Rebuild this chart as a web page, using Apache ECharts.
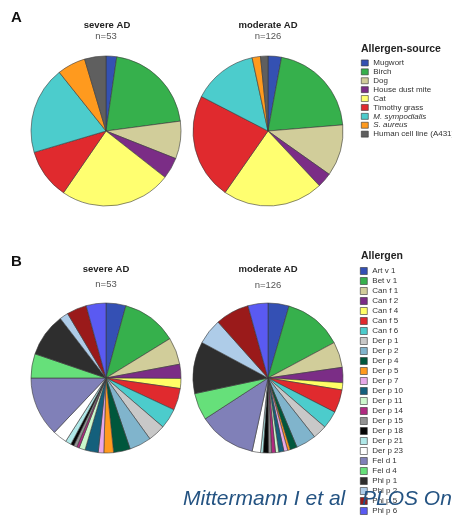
<!DOCTYPE html>
<html>
<head>
<meta charset="utf-8">
<script src="https://cdn.jsdelivr.net/npm/echarts@6/dist/echarts.min.js"></script>
<style>
  html, body { margin: 0; padding: 0; background: #fff; }
  #chart { width: 452px; height: 515px; }
</style>
</head>
<body>
<div id="chart"></div>
<script>
// Panel A: allergen sources
var sourceNames = ['Mugwort', 'Birch', 'Dog', 'House dust mite', 'Cat', 'Timothy grass',
  'M. sympodialis', 'S. aureus', 'Human cell line (A431)'];
var sourceColors = ['#3451b2', '#36b04c', '#d1cd9a', '#7b2d86', '#ffff70', '#e02a2e',
  '#4ccccc', '#ff9a1e', '#5f5f5f'];
var sourceSevere = [2.3, 20.6, 8.1, 4.6, 24.0, 10.8, 18.9, 6.1, 4.6];
var sourceModerate = [2.9, 20.8, 11.1, 3.2, 21.7, 22.9, 14.0, 1.8, 1.6];

// Panel B: single allergen components
var allergenNames = ['Art v 1', 'Bet v 1', 'Can f 1', 'Can f 2', 'Can f 4', 'Can f 5', 'Can f 6',
  'Der p 1', 'Der p 2', 'Der p 4', 'Der p 5', 'Der p 7', 'Der p 10', 'Der p 11', 'Der p 14',
  'Der p 15', 'Der p 18', 'Der p 21', 'Der p 23', 'Fel d 1', 'Fel d 4', 'Phl p 1', 'Phl p 2',
  'Phl p 5', 'Phl p 6'];
var allergenColors = ['#3450b4', '#36b04c', '#d1cd9a', '#7b2d86', '#ffff66', '#e02a2e', '#4ccccc',
  '#c8c8c8', '#80b4cc', '#00573c', '#ff9a1e', '#e8a8e8', '#14607c', '#ccf8cc', '#b02a80',
  '#929292', '#050505', '#b0e8e8', '#ffffff', '#8080b8', '#66e07a', '#2e2e2e', '#aecce8',
  '#9a1a1a', '#5a5af2'];
var allergenSevere = [15.4, 43, 21, 11, 7.7, 17, 15.6, 13.5, 17, 13, 7.5, 4.3, 10.3, 4.7, 2,
  2.5, 2.5, 4.5, 11, 46.5, 18.8, 33.7, 6.7, 15.5, 15.3];
var allergenModerate = [16.3, 45.6, 20, 11.8, 5.6, 17.9, 13.7, 10.9, 15.6, 5.5, 2, 3, 4, 2.5, 3,
  2.5, 4, 2, 6.5, 44.8, 21, 40.3, 20, 26.3, 15.5];

var groupTitles = ['severe AD', 'moderate AD'];
var groupCounts = ['n=53', 'n=126'];

var FONT = '"Liberation Sans", Arial, sans-serif';

function toData(names, values, colors) {
  return names.map(function (n, i) {
    return { name: n, value: values[i], itemStyle: { color: colors[i] } };
  });
}

function pie(center, names, values, colors) {
  return {
    type: 'pie',
    center: center,
    radius: [0, 75],
    startAngle: 90,
    clockwise: true,
    silent: true,
    label: { show: false },
    labelLine: { show: false },
    itemStyle: { borderColor: '#3a3a3a', borderWidth: 0.6 },
    data: toData(names, values, colors)
  };
}

function txt(x, y, text, size, weight, color, align, style) {
  return {
    type: 'text', x: x, y: y, z: 10,
    style: {
      text: text, fill: color, align: align || 'center', verticalAlign: 'middle',
      font: (style || 'normal') + ' ' + weight + ' ' + size + 'px ' + FONT
    }
  };
}

var chart = echarts.init(document.getElementById('chart'), null, { renderer: 'canvas' });

var option = {
  backgroundColor: '#ffffff',
  animation: false,
  legend: [
    {
      data: sourceNames,
      orient: 'vertical',
      left: 361, top: 58.5, padding: 0,
      height: 200,
      itemWidth: 7, itemHeight: 6, itemGap: 0,
      icon: 'rect',
      selectedMode: false,
      itemStyle: { borderColor: '#333', borderWidth: 0.6 },
      textStyle: {
        fontFamily: FONT, fontSize: 8, lineHeight: 8.9, color: '#333',
        rich: { it: { fontFamily: FONT, fontSize: 8, fontStyle: 'italic', color: '#333' } }
      },
      formatter: function (n) {
        return (n === 'M. sympodialis' || n === 'S. aureus') ? '{it|' + n + '}' : n;
      }
    },
    {
      data: allergenNames,
      orient: 'vertical',
      left: 360, top: 266, padding: 0,
      height: 400,
      itemWidth: 7, itemHeight: 7, itemGap: 0,
      icon: 'rect',
      selectedMode: false,
      itemStyle: { borderColor: '#333', borderWidth: 0.6 },
      textStyle: { fontFamily: FONT, fontSize: 8, lineHeight: 10, color: '#333' }
    }
  ],
  series: [
    pie([106, 131], sourceNames, sourceSevere, sourceColors),
    pie([268, 131], sourceNames, sourceModerate, sourceColors),
    pie([106, 378], allergenNames, allergenSevere, allergenColors),
    pie([268, 378], allergenNames, allergenModerate, allergenColors)
  ],
  graphic: [
    txt(11, 18, 'A', 15, 'bold', '#111', 'left'),
    txt(107, 25, groupTitles[0], 9.5, 'bold', '#222'),
    txt(106, 36, groupCounts[0], 9.5, 'normal', '#555'),
    txt(268, 25.5, groupTitles[1], 9.5, 'bold', '#222'),
    txt(268, 36.5, groupCounts[1], 9.5, 'normal', '#555'),
    txt(361, 48.7, 'Allergen-source', 10.5, 'bold', '#222', 'left'),

    txt(11, 262, 'B', 15, 'bold', '#111', 'left'),
    txt(106, 269, groupTitles[0], 9.5, 'bold', '#222'),
    txt(106, 284, groupCounts[0], 9.5, 'normal', '#555'),
    txt(268, 269, groupTitles[1], 9.5, 'bold', '#222'),
    txt(268, 285, groupCounts[1], 9.5, 'normal', '#555'),
    txt(361, 256, 'Allergen', 10.5, 'bold', '#222', 'left'),

    // citation line, running past the right edge
    txt(183, 499, 'Mittermann I et al', 21, 'normal', '#245382', 'left', 'italic'),
    txt(362, 499, 'PLOS One', 21, 'normal', '#245382', 'left', 'italic')
  ]
};

chart.setOption(option);
</script>
</body>
</html>
